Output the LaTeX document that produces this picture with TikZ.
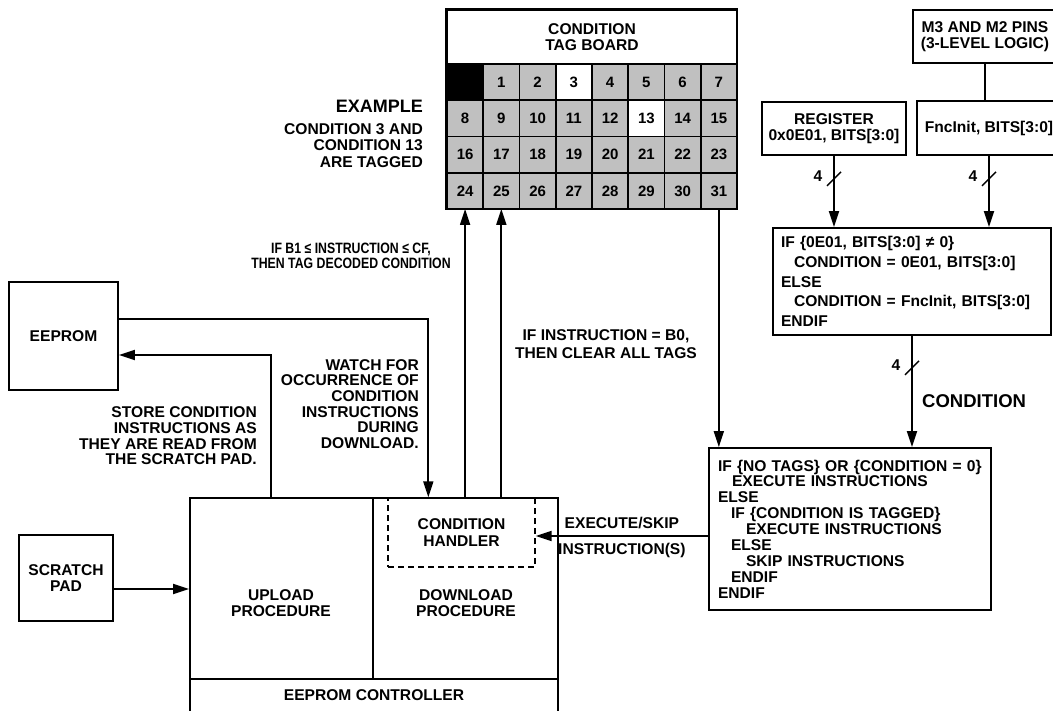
\documentclass[tikz,border=0pt]{standalone}
\usepackage{fontspec}
\setmainfont{Liberation Sans}
\newfontfamily\narrowsans[FakeStretch=0.82]{Liberation Sans}
\usetikzlibrary{arrows.meta}
\definecolor{cellgray}{RGB}{192,192,192}

\tikzset{
    lbl/.style={font=\bfseries\fontsize{15.6}{15.6}\selectfont, align=center, inner sep=0pt},
    box/.style={draw, line width=1.8pt, font=\bfseries\fontsize{15.6}{16.5}\selectfont, align=center, inner sep=2pt},
    cell/.style={draw, line width=1.6pt, minimum width=36.25pt, minimum height=36.25pt, inner sep=0pt, outer sep=0pt, font=\bfseries\fontsize{15}{15}\selectfont},
    wire/.style={line width=1.8pt},
    arr/.style={wire, -{Triangle[length=16pt,width=10pt]}},
    bus/.pic={
        \draw[line width=1.4pt] (-7,7) -- (7,-7);
        \node[lbl] (-n) at (-16,-3) {4};
    },
}

\begin{document}
\begin{tikzpicture}[x=1pt,y=-1pt]
    \useasboundingbox (0,0) rectangle (1053,711);
    \clip (0,0) rectangle (1053,711);

    \node[box, minimum width=290pt, minimum height=54pt] (board) at (592,37) {CONDITION\\TAG BOARD};
    \foreach \row in {0,...,3} {
        \foreach \col in {0,...,7} {
            \pgfmathtruncatemacro{\n}{8*\row+\col}
            \ifnum\n=0 \def\cfill{black}\def\ctext{}\else\def\cfill{cellgray}\def\ctext{\n}\fi
            \ifnum\n=3 \def\cfill{white}\fi
            \ifnum\n=13 \def\cfill{white}\fi
            \node[cell, fill=\cfill] (t\n) at ({465.1+36.25*\col},{82.1+36.25*\row}) {\ctext};
        }
    }
    \draw[line width=1.8pt] (board.north west) rectangle (t31.south east);

    \node[lbl, anchor=east, font=\bfseries\fontsize{18}{18}\selectfont] (exhead) at (423,106) {EXAMPLE};
    \node[lbl, align=right, anchor=north east, font=\bfseries\fontsize{15.6}{16.5}\selectfont] (exbody) at (423,123) {CONDITION 3 AND\\CONDITION 13\\ARE TAGGED};
    \node[lbl, font=\narrowsans\bfseries\fontsize{15}{15}\selectfont] (tagrule) at (351,256) {IF B1 ≤ INSTRUCTION ≤ CF,\\THEN TAG DECODED CONDITION};
    \node[lbl] (clearrule) at (606,344) {IF INSTRUCTION = B0,\\[2pt]THEN CLEAR ALL TAGS};
    \node[lbl, align=right, anchor=east] (watchlbl) at (419,404) {WATCH FOR\\OCCURRENCE OF\\CONDITION\\INSTRUCTIONS\\DURING\\DOWNLOAD.};
    \node[lbl, align=right, anchor=east] (storelbl) at (257,436) {STORE CONDITION\\INSTRUCTIONS AS\\THEY ARE READ FROM\\THE SCRATCH PAD.};

    \node[box, minimum width=109pt, minimum height=108pt] (eeprom) at (63.5,336) {EEPROM};
    \node[box, minimum width=94pt, minimum height=86pt] (pad) at (66,578) {SCRATCH\\PAD};

    \node[box, minimum width=368pt, minimum height=240pt] (ctrl) at (374,618) {};
    \draw[wire] (190,679) -- (558,679);
    \draw[wire] (373,498) -- (373,679);
    \node[lbl] (upl) at (281,603) {UPLOAD\\PROCEDURE};
    \node[lbl] (dnl) at (466,603) {DOWNLOAD\\PROCEDURE};
    \node[lbl] (ctrllbl) at (374,695) {EEPROM CONTROLLER};
    \node[box, line width=1.4pt, dash pattern=on 6pt off 4pt, minimum width=147pt, minimum height=69pt] (hdl) at (461.5,532.5) {CONDITION\\HANDLER};

    \node[box, minimum width=144pt, minimum height=53pt] (pins) at (985,36.5) {M3 AND M2 PINS\\(3-LEVEL LOGIC)};
    \node[box, minimum width=144pt, minimum height=53pt] (reg) at (834,128.5) {REGISTER\\0x0E01, BITS[3:0]};
    \node[box, minimum width=144pt, minimum height=54pt] (fnc) at (989,128) {FncInit, BITS[3:0]};
    \node[box, minimum width=278pt, minimum height=107pt, align=left, text width=262pt, inner xsep=8pt,
          font=\bfseries\fontsize{15.6}{19.7}\selectfont] (cond) at (912,281.5)
        {IF \{0E01, BITS[3:0] ≠ 0\}\\
         \hspace*{13pt}CONDITION = 0E01, BITS[3:0]\\
         ELSE\\
         \hspace*{13pt}CONDITION = FncInit, BITS[3:0]\\
         ENDIF};
    \node[box, minimum width=282pt, minimum height=162pt, align=left, text width=264pt, inner xsep=9pt,
          font=\bfseries\fontsize{15.6}{15.9}\selectfont] (exec) at (850,529)
        {IF \{NO TAGS\} OR \{CONDITION = 0\}\\
         \hspace*{14pt}EXECUTE INSTRUCTIONS\\
         ELSE\\
         \hspace*{13pt}IF \{CONDITION IS TAGGED\}\\
         \hspace*{28pt}EXECUTE INSTRUCTIONS\\
         \hspace*{13pt}ELSE\\
         \hspace*{28pt}SKIP INSTRUCTIONS\\
         \hspace*{13pt}ENDIF\\
         ENDIF};

    \draw[wire] (pins.south) -- (pins.south |- fnc.north);
    \draw[arr] (reg.south) -- (reg.south |- cond.north);
    \path (reg.south) ++(0,23) pic (busreg) {bus};
    \draw[arr] (fnc.south) -- (fnc.south |- cond.north);
    \path (fnc.south) ++(0,23) pic (busfnc) {bus};
    \draw[arr] (cond.south) -- (cond.south |- exec.north);
    \path (cond.south) ++(0,32) pic (buscond) {bus};
    \node[lbl, anchor=west, font=\bfseries\fontsize{18.5}{18.5}\selectfont] (condlbl) at ([xshift=10pt,yshift=-65pt]cond.south) {CONDITION};

    \draw[arr] (t31.south) -- (t31.south |- exec.north);
    \draw[arr] ([yshift=-7pt]exec.west) -- ([yshift=-7pt]exec.west -| hdl.east)
        node[lbl, midway, above=6pt] (skiplbl) {EXECUTE/SKIP}
        node[lbl, midway, below=6pt] (inslbl) {INSTRUCTION(S)};
    \draw[arr] (t24.south |- ctrl.north) -- (t24.south);
    \draw[arr] (t25.south |- ctrl.north) -- (t25.south);
    \draw[arr] ([yshift=17pt]eeprom.east) -| ([xshift=41pt]hdl.north west);
    \draw[arr] ([xshift=82pt]ctrl.north west) |- ([yshift=-19pt]eeprom.east);
    \draw[arr] ([yshift=-11pt]pad.east) -- ([yshift=-11pt]pad.east -| ctrl.west);
\end{tikzpicture}
\end{document}
